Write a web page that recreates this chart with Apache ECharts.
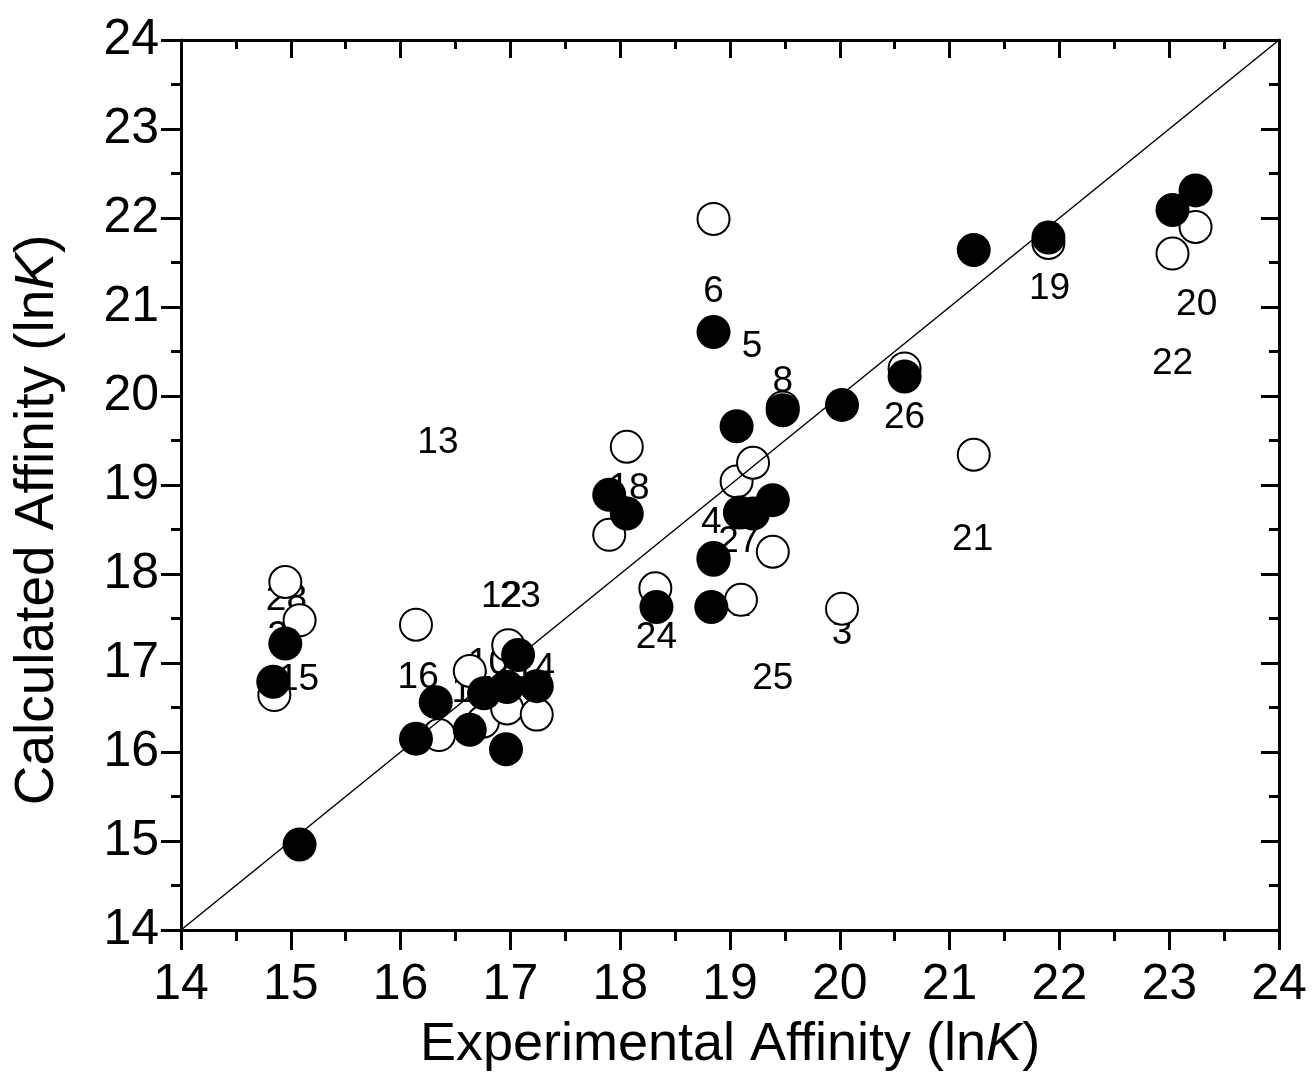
<!DOCTYPE html>
<html>
<head>
<meta charset="utf-8">
<title>Affinity</title>
<script src="https://cdn.jsdelivr.net/npm/echarts@6/dist/echarts.min.js"></script>
<style>
  html, body { margin: 0; padding: 0; background: #fff; }
  #chart { width: 1313px; height: 1077px; }
</style>
</head>
<body>
<div id="chart"></div>
<script>
// experimental vs calculated (filled circles)
var filledPts = [
  [14.84, 16.79], [14.95, 17.22], [15.08, 14.96], [16.14, 16.15], [16.32, 16.56],
  [16.63, 16.25], [16.76, 16.66], [16.96, 16.03], [16.97, 16.73], [17.07, 17.09],
  [17.24, 16.74], [17.90, 18.89], [18.06, 18.68], [18.33, 17.63], [18.83, 17.63],
  [18.85, 18.16], [18.85, 20.72], [19.06, 19.66], [19.09, 18.69], [19.21, 18.68],
  [19.39, 18.83], [19.48, 19.84], [20.02, 19.90], [20.59, 20.22], [21.22, 21.64],
  [21.90, 21.78], [23.03, 22.09], [23.24, 22.31]
];
// second set (open circles)
var openPts = [
  [14.85, 16.64], [14.95, 17.91], [15.08, 17.48], [16.14, 17.43], [16.35, 16.19],
  [16.63, 16.91], [16.75, 16.34], [16.97, 16.49], [16.98, 17.20], [17.24, 16.42],
  [17.90, 18.44], [18.06, 19.43], [18.32, 17.84], [18.85, 18.18], [18.85, 21.99],
  [19.06, 19.04], [19.10, 17.71], [19.21, 19.25], [19.39, 18.25], [19.48, 19.87],
  [20.02, 17.61], [20.59, 20.31], [21.22, 19.34], [21.90, 21.72], [23.03, 21.60],
  [23.24, 21.90]
];
// compound number labels
var labelNames = ['13', '6', '5', '8', '19', '20', '22', '26', '21', '3', '25', '24', '18', '4',
  '27', '9', '1', '28', '2', '15', '16', '12', '23', '14', '17', '10'];
var labelPts = [
  [16.34, 19.47], [18.85, 21.17], [19.20, 20.55], [19.48, 20.16], [21.91, 21.21],
  [23.25, 21.03], [23.03, 20.36], [20.59, 19.75], [21.21, 18.38], [20.02, 17.33],
  [19.39, 16.82], [18.33, 17.28], [18.08, 18.96], [18.83, 18.58], [19.08, 18.36],
  [18.85, 17.62], [19.10, 17.64], [14.96, 17.71], [14.88, 17.30], [15.07, 16.81],
  [16.16, 16.83], [16.92, 17.74], [17.09, 17.74], [17.22, 16.94], [16.65, 16.68],
  [16.80, 16.99]
];
var diagLine = [[14, 14], [24, 24]];
var axisMin = 14;
var axisMax = 24;

var FONT = 'Liberation Sans, Arial, sans-serif';
var myChart = echarts.init(document.getElementById('chart'));

var labelData = labelPts.map(function (p, i) {
  return { value: p, name: labelNames[i] };
});

var commonLine = { show: true, onZero: false, lineStyle: { color: '#000', width: 3 } };

var option = {
  backgroundColor: '#fff',
  animation: false,
  grid: { left: 181, right: 34, top: 40, bottom: 147, outerBoundsMode: 'none', containLabel: false },
  xAxis: [{
    type: 'value', min: axisMin, max: axisMax, interval: 1, position: 'bottom',
    axisLine: commonLine,
    axisTick: { show: true, inside: false, length: 20, lineStyle: { color: '#000', width: 3 } },
    minorTick: { show: true, splitNumber: 2, length: 11, lineStyle: { color: '#000', width: 3 } },
    splitLine: { show: false },
    axisLabel: { color: '#000', fontSize: 50, fontFamily: FONT, margin: 30 },
    name: '{n|Experimental Affinity (ln}{i|K}{n|)}',
    nameLocation: 'middle', nameGap: 88,
    nameTextStyle: {
      rich: {
        n: { fontSize: 54, fontFamily: FONT, color: '#000' },
        i: { fontSize: 54, fontFamily: FONT, color: '#000', fontStyle: 'italic' }
      }
    }
  }, {
    type: 'value', min: axisMin, max: axisMax, interval: 1, position: 'top',
    axisLine: commonLine,
    axisTick: { show: true, inside: true, length: 18, lineStyle: { color: '#000', width: 3 } },
    minorTick: { show: true, splitNumber: 2, length: 9, lineStyle: { color: '#000', width: 3 } },
    splitLine: { show: false },
    axisLabel: { show: false }
  }],
  yAxis: [{
    type: 'value', min: axisMin, max: axisMax, interval: 1, position: 'left',
    axisLine: commonLine,
    axisTick: { show: true, inside: false, length: 20, lineStyle: { color: '#000', width: 3 } },
    minorTick: { show: true, splitNumber: 2, length: 10, lineStyle: { color: '#000', width: 3 } },
    splitLine: { show: false },
    axisLabel: { color: '#000', fontSize: 50, fontFamily: FONT, margin: 22 },
    name: '{n|Calculated Affinity (ln}{i|K}{n|)}',
    nameLocation: 'middle', nameGap: 116, nameRotate: 90,
    nameTextStyle: {
      padding: [0, 70, 0, 0],
      rich: {
        n: { fontSize: 55, fontFamily: FONT, color: '#000' },
        i: { fontSize: 55, fontFamily: FONT, color: '#000', fontStyle: 'italic' }
      }
    }
  }, {
    type: 'value', min: axisMin, max: axisMax, interval: 1, position: 'right',
    axisLine: commonLine,
    axisTick: { show: true, inside: true, length: 18, lineStyle: { color: '#000', width: 3 } },
    minorTick: { show: true, splitNumber: 2, length: 10, lineStyle: { color: '#000', width: 3 } },
    splitLine: { show: false },
    axisLabel: { show: false }
  }],
  series: [{
    // number labels, drawn underneath the markers
    type: 'scatter', z: 1,
    symbolSize: 2,
    itemStyle: { color: 'rgba(0,0,0,0)', opacity: 1 },
    label: {
      show: true, position: 'inside', formatter: '{b}',
      color: '#000', fontSize: 37, fontFamily: FONT, opacity: 1
    },
    data: labelData
  }, {
    type: 'scatter', z: 2,
    symbol: 'circle', symbolSize: 32,
    itemStyle: { color: '#fff', borderColor: '#000', borderWidth: 2, opacity: 1 },
    data: openPts
  }, {
    type: 'line', z: 3,
    data: diagLine, symbol: 'none',
    lineStyle: { color: '#000', width: 1.5 }
  }, {
    type: 'scatter', z: 4,
    symbol: 'circle', symbolSize: 34,
    itemStyle: { color: '#000', opacity: 1 },
    data: filledPts
  }]
};
myChart.setOption(option, (window.onresize = myChart.resize));
</script>
</body>
</html>
